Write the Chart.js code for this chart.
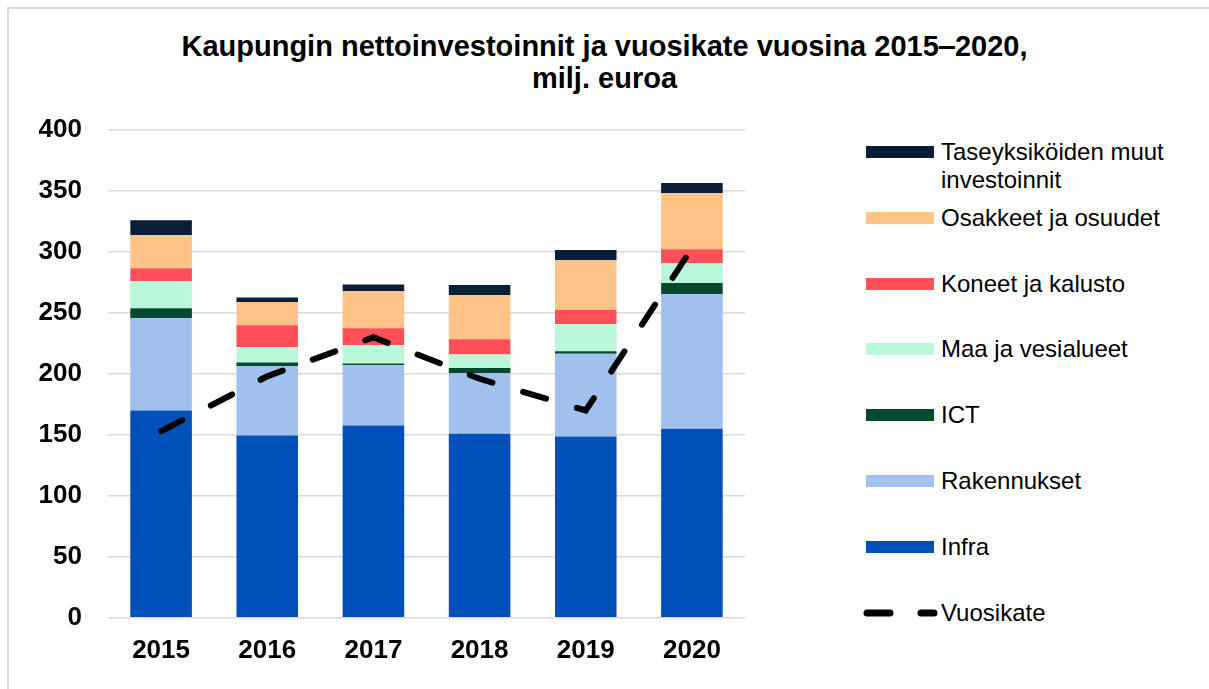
<!DOCTYPE html>
<html>
<head>
<meta charset="utf-8">
<script src="https://cdn.jsdelivr.net/npm/chart.js@4"></script>
<style>
  body { margin: 0; background: #fff; font-family: "Liberation Sans", Arial, sans-serif; }
  #wrap { position: relative; width: 1209px; height: 689px; overflow: hidden; }
  #frame { position: absolute; left: 7px; top: 7px; width: 1300px; height: 800px; border-left: 2px solid #d9d9d9; border-top: 2px solid #d9d9d9; }
  #title { position: absolute; left: 0; top: 30px; width: 1209px; text-align: center; font-weight: bold; font-size: 29px; line-height: 32px; color: #000; }
  #chartBox { position: absolute; left: 0; top: 0; width: 760px; height: 689px; }
  #legend { position: absolute; left: 862px; top: 0; }
  .item { position: absolute; left: 0; width: 340px; font-size: 24px; line-height: 28px; color: #000; }
  .sw { position: absolute; left: 4px; width: 68px; height: 12px; }
  .txt { position: absolute; left: 79px; white-space: nowrap; }
</style>
</head>
<body>
<div id="wrap">
  <div id="frame"></div>
  <div id="title">Kaupungin nettoinvestoinnit ja vuosikate vuosina 2015‒2020,<br>milj. euroa</div>
  <div id="chartBox"><canvas id="chart"></canvas></div>
  <div id="legend"></div>
</div>
<script>
// =====================
// DATA
// =====================
const years = ["2015", "2016", "2017", "2018", "2019", "2020"];
const yTicks = [0, 50, 100, 150, 200, 250, 300, 350, 400];

const infra       = [170, 149.5, 157.7, 151, 148.7, 155];
const rakennukset = [75.6, 56.7, 49.3, 49.5, 67.9, 110.6];
const ict         = [8.2, 3.2, 1.6, 4.4, 1.9, 9];
const maaVesi     = [22.2, 12.4, 14.8, 11, 22.2, 16.2];
const koneet      = [10.6, 18, 14, 12.5, 12, 11.5];
const osakkeet    = [27.4, 19.2, 30.4, 36.4, 40.5, 46];
const taseMuut    = [12, 3.6, 5.5, 8, 8.5, 8.2];
const vuosikate   = [153, 198, 230, 196, 170, 303];

// =====================
// DATASETS
// =====================
const barSeries = [
  { label: "Infra", data: infra, color: "#0050BA" },
  { label: "Rakennukset", data: rakennukset, color: "#A1C0EE" },
  { label: "ICT", data: ict, color: "#044A2E" },
  { label: "Maa ja vesialueet", data: maaVesi, color: "#BAF8DA" },
  { label: "Koneet ja kalusto", data: koneet, color: "#FF4F58" },
  { label: "Osakkeet ja osuudet", data: osakkeet, color: "#FFC387" },
  { label: "Taseyksiköiden muut investoinnit", data: taseMuut, color: "#0B1E38" }
];

const datasets = barSeries.map(s => ({
  type: "bar",
  label: s.label,
  data: s.data,
  backgroundColor: s.color,
  borderWidth: 0,
  stack: "inv",
  order: 1,
  barPercentage: 0.58,
  categoryPercentage: 1
}));

datasets.push({
  type: "line",
  label: "Vuosikate",
  data: vuosikate,
  borderColor: "#000",
  borderWidth: 6,
  borderDash: [24, 32],
  borderCapStyle: "round",
  pointRadius: 0,
  tension: 0,
  fill: false,
  stack: "line",
  order: 0
});

// =====================
// GRAFIK
// =====================
const canvas = document.getElementById("chart");
canvas.width = 760;
canvas.height = 689;

new Chart(canvas, {
  data: { labels: years, datasets: datasets },
  options: {
    responsive: false,
    animation: false,
    layout: { padding: { top: 130, right: 15, bottom: 14, left: 0 } },
    plugins: {
      legend: { display: false },
      title: { display: false },
      tooltip: { enabled: false }
    },
    scales: {
      x: {
        stacked: true,
        grid: { display: false },
        border: { display: false },
        ticks: {
          color: "#000",
          padding: 9,
          font: { family: "Liberation Sans", size: 26, weight: "bold" }
        }
      },
      y: {
        stacked: true,
        min: 0,
        max: 400,
        afterBuildTicks: axis => { axis.ticks = yTicks.map(v => ({ value: v })); },
        afterFit: axis => { axis.width = 108; },
        grid: { color: "#d9d9d9", lineWidth: 1.5, drawTicks: false },
        border: { display: false },
        ticks: {
          color: "#000",
          padding: 26,
          font: { family: "Liberation Sans", size: 26, weight: "bold" }
        }
      }
    }
  }
});

// =====================
// LEGEND (HTML)
// =====================
const legend = document.getElementById("legend");
const legendOrder = barSeries.slice().reverse();
const legendTop = 152;
const legendStep = 65.8;

legendOrder.forEach((s, i) => {
  const cy = legendTop + i * legendStep;
  const item = document.createElement("div");
  item.className = "item";
  item.style.top = (cy - 14) + "px";
  let label = s.label;
  if (label === "Taseyksiköiden muut investoinnit") label = "Taseyksiköiden muut<br>investoinnit";
  item.innerHTML = `<div class="sw" style="top:8px;background:${s.color}"></div><div class="txt">${label}</div>`;
  legend.appendChild(item);
});

const cyLine = legendTop + legendOrder.length * legendStep;
const lineItem = document.createElement("div");
lineItem.className = "item";
lineItem.style.top = (cyLine - 14) + "px";
lineItem.innerHTML = `<svg style="position:absolute;left:0;top:0" width="80" height="28">
  <line x1="5" y1="14" x2="28" y2="14" stroke="#000" stroke-width="7" stroke-linecap="round"/>
  <line x1="59" y1="14" x2="72" y2="14" stroke="#000" stroke-width="7" stroke-linecap="round"/>
</svg><div class="txt">Vuosikate</div>`;
legend.appendChild(lineItem);
</script>
</body>
</html>
